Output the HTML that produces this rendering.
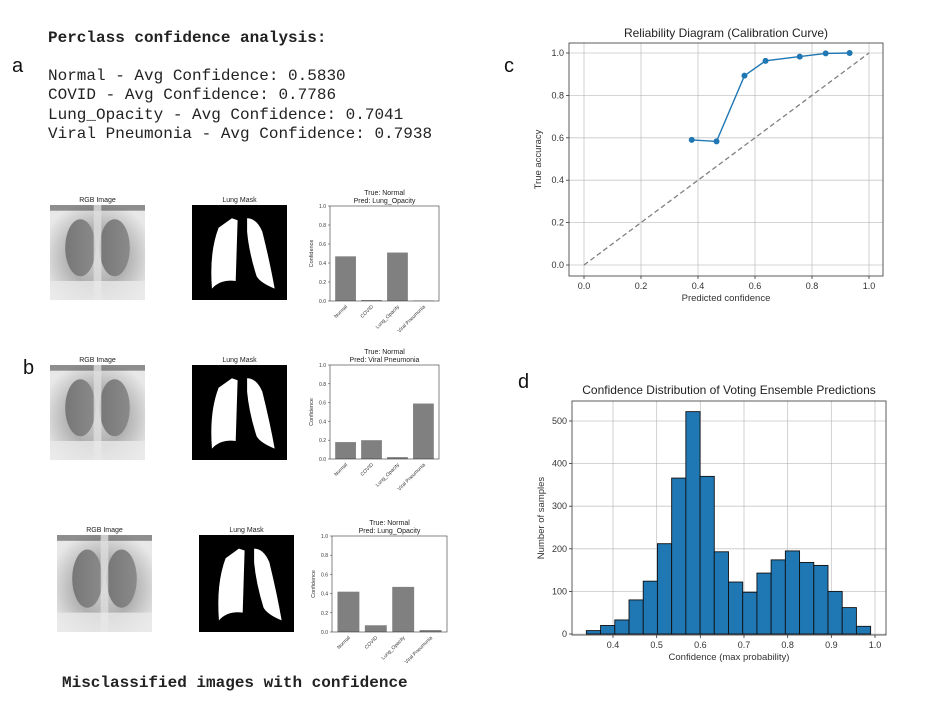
<!DOCTYPE html>
<html><head><meta charset="utf-8"><style>
body{margin:0;background:#fff;width:944px;height:701px;overflow:hidden}
svg{display:block}
.mono{font-family:"Liberation Mono",monospace;font-size:16px;fill:#222}
.sans{font-family:"Liberation Sans",sans-serif}
</style></head><body>
<svg id="root" width="944" height="701" xmlns="http://www.w3.org/2000/svg">
<defs>
<radialGradient id="xr" cx="50%" cy="55%" r="60%">
<stop offset="0" stop-color="#d0d0d0"/><stop offset="0.5" stop-color="#b0b0b0"/><stop offset="1" stop-color="#e8e8e8"/></radialGradient>
<linearGradient id="lungL" x1="0" x2="1"><stop offset="0" stop-color="#777"/><stop offset="1" stop-color="#8a8a8a"/></linearGradient>
</defs>
<g class="sans" font-size="20" fill="#111">
<text x="12" y="72">a</text>
<text x="23" y="374">b</text>
<text x="504" y="72">c</text>
<text x="518" y="388">d</text>
</g>
<g>
<text class="mono" x="48" y="42" font-weight="bold">Perclass confidence analysis:</text>
<text class="mono" x="48" y="80">Normal - Avg Confidence: 0.5830</text>
<text class="mono" x="48" y="99">COVID - Avg Confidence: 0.7786</text>
<text class="mono" x="48" y="119">Lung_Opacity - Avg Confidence: 0.7041</text>
<text class="mono" x="48" y="138">Viral Pneumonia - Avg Confidence: 0.7938</text>
<text class="mono" x="62" y="687" font-weight="bold">Misclassified images with confidence</text>
</g>
<g id="panels"></g>
<g id="rel"></g>
<g id="hist"></g>
</svg>
<script>
const NS="http://www.w3.org/2000/svg";
function mk(p,t,a,txt){const e=document.createElementNS(NS,t);for(const k in a)e.setAttribute(k,a[k]);if(txt!==undefined)e.textContent=txt;p.appendChild(e);return e;}

// ---- small bar chart data ----
const classNames=["Normal","COVID","Lung_Opacity","Viral Pneumonia"];
const conf1=[0.47,0.01,0.51,0.005];
const conf2=[0.18,0.20,0.02,0.59];
const conf3=[0.42,0.07,0.47,0.02];
const preds=["Lung_Opacity","Viral Pneumonia","Lung_Opacity"];
const smallTicks=[0,0.2,0.4,0.6,0.8,1.0];

// ---- reliability data ----
const relX=[0.378,0.465,0.563,0.637,0.757,0.848,0.932];
const relY=[0.59,0.583,0.893,0.963,0.983,0.998,1.0];
const relTicks=[0,0.2,0.4,0.6,0.8,1.0];

// ---- histogram data ----
const histStart=0.339, histBinW=0.03255;
const histCounts=[8,20,33,80,124,212,366,522,370,193,122,98,143,174,195,168,161,100,62,18];
const histXTicks=[0.4,0.5,0.6,0.7,0.8,0.9,1.0];
const histYTicks=[0,100,200,300,400,500];

const panels=document.getElementById('panels');
const rows=[
 {img:[50,205,95,95],mask:[192,205,95,95],ax:[330,206,439,301],conf:conf1},
 {img:[50,365,95,95],mask:[192,365,95,95],ax:[330,365,439,459],conf:conf2},
 {img:[57,535,95,97],mask:[199,535,95,97],ax:[332,536,447,632],conf:conf3}
];
rows.forEach((r,i)=>{
 const g=mk(panels,'g',{});
 
 
 const [ix,iy,iw,ih]=r.img;
 const t1=mk(g,'text',{x:ix+iw/2,y:iy-3,'text-anchor':'middle','font-size':7,class:'sans',fill:'#222'},'RGB Image');
 
 
 const xg=mk(g,'g',{});
 
 
 mk(xg,'rect',{x:ix,y:iy,width:iw,height:ih,fill:'url(#xr)'});
 mk(xg,'rect',{x:ix,y:iy,width:iw,height:ih*0.06,fill:'#333',opacity:0.5});
 mk(xg,'ellipse',{cx:ix+iw*0.32,cy:iy+ih*0.45,rx:iw*0.16,ry:ih*0.3,fill:'url(#lungL)'});
 mk(xg,'ellipse',{cx:ix+iw*0.68,cy:iy+ih*0.45,rx:iw*0.16,ry:ih*0.3,fill:'url(#lungL)'});
 mk(xg,'rect',{x:ix+iw*0.46,y:iy,width:iw*0.08,height:ih,fill:'#ddd',opacity:0.8});
 mk(xg,'rect',{x:ix,y:iy+ih*0.8,width:iw,height:ih*0.2,fill:'#eaeaea',opacity:0.8});
 const [mx,my,mw,mh]=r.mask;
 const t2=mk(g,'text',{x:mx+mw/2,y:my-3,'text-anchor':'middle','font-size':7,class:'sans',fill:'#222'},'Lung Mask');
 
 
 const mg=mk(g,'g',{});
 
 
 mk(mg,'rect',{x:mx,y:my,width:mw,height:mh,fill:'#000'});
 const sx=mw/100,sy=mh/100;
 mk(mg,'path',{d:`M${mx+42*sx},${my+14*sy} L${mx+48*sx},${my+16*sy} L${mx+46*sx},${my+80*sy} Q${mx+30*sx},${my+78*sy} ${mx+21*sx},${my+88*sy} Q${mx+18*sx},${my+50*sy} ${mx+28*sx},${my+24*sy} Z`,fill:'#fff'});
 mk(mg,'path',{d:`M${mx+58*sx},${my+14*sy} Q${mx+68*sx},${my+14*sy} ${mx+74*sx},${my+28*sy} Q${mx+82*sx},${my+60*sy} ${mx+87*sx},${my+88*sy} Q${mx+72*sx},${my+82*sy} ${mx+68*sx},${my+75*sy} Q${mx+60*sx},${my+50*sy} ${mx+58*sx},${my+28*sy} Z`,fill:'#fff'});
 const [x0,y0,x1,y1]=r.ax;
 const bg=mk(g,'g',{});
 
 
 const ys=v=>y1-v*(y1-y0);
 const slot=(x1-x0)/4.2, bw=slot*0.8;
 const xs=k=>x0+slot*0.1+slot*(k+0.5);
 mk(bg,'text',{x:(x0+x1)/2,y:y0-11,'text-anchor':'middle','font-size':7,class:'sans',fill:'#222'},'True: Normal');
 mk(bg,'text',{x:(x0+x1)/2,y:y0-3,'text-anchor':'middle','font-size':7,class:'sans',fill:'#222'},'Pred: '+preds[i]);
 smallTicks.forEach(t=>{
  mk(bg,'line',{x1:x0-2,x2:x0,y1:ys(t),y2:ys(t),stroke:'#333','stroke-width':0.5});
  mk(bg,'text',{x:x0-4,y:ys(t)+2,'text-anchor':'end','font-size':5,class:'sans',fill:'#333'},t.toFixed(1));
 });
 mk(bg,'text',{x:0,y:0,'font-size':5.5,class:'sans',fill:'#333','text-anchor':'middle',transform:`translate(${x0-17},${(y0+y1)/2}) rotate(-90)`},'Confidence');
 r.conf.forEach((v,k)=>{
  const b=mk(bg,'rect',{x:xs(k)-bw/2,y:ys(v),width:bw,height:Math.max(0.5,y1-ys(v)),fill:'#808080'});
  
  
  mk(bg,'text',{x:0,y:0,'font-size':5,class:'sans',fill:'#333','text-anchor':'end',transform:`translate(${xs(k)+2},${y1+6}) rotate(-45)`},classNames[k]);
 });
 mk(bg,'rect',{x:x0,y:y0,width:x1-x0,height:y1-y0,fill:'none',stroke:'#333','stroke-width':0.6});
});

(function(){
 const g=document.getElementById('rel');
 
 
 const L=569,R=883,T=43,B=276;
 const xs=v=>584+v*(869-584), ys=v=>265-v*(265-53);
 mk(g,'text',{x:(L+R)/2,y:T-6,'text-anchor':'middle','font-size':12,class:'sans',fill:'#222'},'Reliability Diagram (Calibration Curve)');
 relTicks.forEach(t=>{
  mk(g,'line',{x1:xs(t),x2:xs(t),y1:T,y2:B,stroke:'#b0b0b0','stroke-width':0.8,opacity:0.7});
  mk(g,'line',{x1:L,x2:R,y1:ys(t),y2:ys(t),stroke:'#b0b0b0','stroke-width':0.8,opacity:0.7});
  mk(g,'line',{x1:xs(t),x2:xs(t),y1:B,y2:B+3,stroke:'#333','stroke-width':0.8});
  mk(g,'line',{x1:L-3,x2:L,y1:ys(t),y2:ys(t),stroke:'#333','stroke-width':0.8});
  mk(g,'text',{x:xs(t),y:B+13,'text-anchor':'middle','font-size':9,class:'sans',fill:'#333'},t.toFixed(1));
  mk(g,'text',{x:L-5,y:ys(t)+3,'text-anchor':'end','font-size':9,class:'sans',fill:'#333'},t.toFixed(1));
 });
 const d=mk(g,'line',{x1:xs(0),y1:ys(0),x2:xs(1),y2:ys(1),stroke:'#808080','stroke-width':1.3,'stroke-dasharray':'5,3'});
 
 
 const ln=mk(g,'polyline',{points:relX.map((x,i)=>xs(x)+','+ys(relY[i])).join(' '),fill:'none',stroke:'#1f77b4','stroke-width':1.4});
 
 
 relX.forEach((x,i)=>{
  const c=mk(g,'circle',{cx:xs(x),cy:ys(relY[i]),r:3,fill:'#1f77b4'});
  
  
 });
 mk(g,'rect',{x:L,y:T,width:R-L,height:B-T,fill:'none',stroke:'#333','stroke-width':0.8});
 mk(g,'text',{x:(L+R)/2,y:B+25,'text-anchor':'middle','font-size':9.5,class:'sans',fill:'#333'},'Predicted confidence');
 mk(g,'text',{x:0,y:0,'text-anchor':'middle','font-size':9.5,class:'sans',fill:'#333',transform:`translate(${L-28},${(T+B)/2}) rotate(-90)`},'True accuracy');
})();

(function(){
 const g=document.getElementById('hist');
 
 
 const L=572,R=886,T=401,B=635;
 const xs=v=>613+(v-0.4)*(875-613)/0.6, ys=v=>634-v*(634-421)/500;
 mk(g,'text',{x:(L+R)/2,y:T-7,'text-anchor':'middle','font-size':12,class:'sans',fill:'#222'},'Confidence Distribution of Voting Ensemble Predictions');
 histXTicks.forEach(t=>{
  mk(g,'line',{x1:xs(t),x2:xs(t),y1:T,y2:B,stroke:'#b0b0b0','stroke-width':0.8,opacity:0.7});
  mk(g,'line',{x1:xs(t),x2:xs(t),y1:B,y2:B+3,stroke:'#333','stroke-width':0.8});
  mk(g,'text',{x:xs(t),y:B+13,'text-anchor':'middle','font-size':9,class:'sans',fill:'#333'},t.toFixed(1));
 });
 histYTicks.forEach(t=>{
  mk(g,'line',{x1:L,x2:R,y1:ys(t),y2:ys(t),stroke:'#b0b0b0','stroke-width':0.8,opacity:0.7});
  mk(g,'line',{x1:L-3,x2:L,y1:ys(t),y2:ys(t),stroke:'#333','stroke-width':0.8});
  mk(g,'text',{x:L-5,y:ys(t)+3,'text-anchor':'end','font-size':9,class:'sans',fill:'#333'},String(t));
 });
 histCounts.forEach((c,i)=>{
  const a=histStart+i*histBinW, b=a+histBinW;
  const r=mk(g,'rect',{x:xs(a),y:ys(c),width:xs(b)-xs(a),height:ys(0)-ys(c),fill:'#1f77b4',stroke:'#111','stroke-width':0.9});
  
  
 });
 mk(g,'rect',{x:L,y:T,width:R-L,height:B-T,fill:'none',stroke:'#333','stroke-width':0.8});
 mk(g,'text',{x:(L+R)/2,y:B+25,'text-anchor':'middle','font-size':9.5,class:'sans',fill:'#333'},'Confidence (max probability)');
 mk(g,'text',{x:0,y:0,'text-anchor':'middle','font-size':9.5,class:'sans',fill:'#333',transform:`translate(${L-28},${(T+B)/2}) rotate(-90)`},'Number of samples');
})();
</script>
</body></html>
